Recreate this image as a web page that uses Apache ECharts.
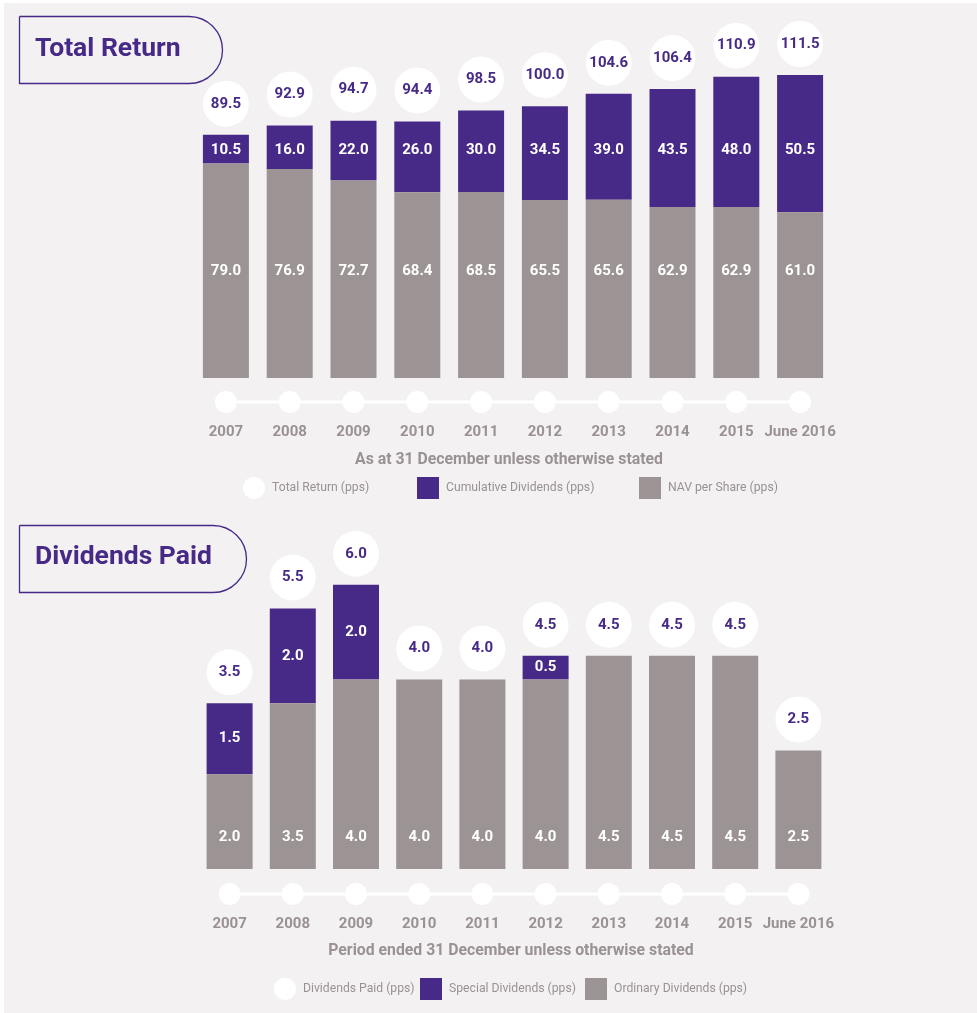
<!DOCTYPE html>
<html>
<head>
<meta charset="utf-8">
<script src="https://cdn.jsdelivr.net/npm/echarts@6/dist/echarts.min.js"></script>
<style>
html,body{margin:0;padding:0;background:#ffffff;}
#c{width:977px;height:1013px;}
</style>
</head>
<body>
<div id="c"></div>
<script>
// ---- data ----
const categories = ['2007','2008','2009','2010','2011','2012','2013','2014','2015','June 2016'];
// Chart 1: Total Return
const navPerShare = [79.0, 76.9, 72.7, 68.4, 68.5, 65.5, 65.6, 62.9, 62.9, 61.0];
const cumulativeDividends = [10.5, 16.0, 22.0, 26.0, 30.0, 34.5, 39.0, 43.5, 48.0, 50.5];
const totalReturn = [89.5, 92.9, 94.7, 94.4, 98.5, 100.0, 104.6, 106.4, 110.9, 111.5];
// Chart 2: Dividends Paid
const ordinaryDividends = [2.0, 3.5, 4.0, 4.0, 4.0, 4.0, 4.5, 4.5, 4.5, 2.5];
const specialDividends = [1.5, 2.0, 2.0, null, null, 0.5, null, null, null, null];
const dividendsPaid = [3.5, 5.5, 6.0, 4.0, 4.0, 4.5, 4.5, 4.5, 4.5, 2.5];

const PURPLE = '#472a87';
const GREY = '#9c9394';
const TEXTGREY = '#9a9193';
const BG = '#f3f1f2';
const FONT = 'Roboto, "Noto Sans", sans-serif';

const chart = echarts.init(document.getElementById('c'), null, {renderer: 'canvas'});

const fmt1 = v => Number(v).toFixed(1);

function hiddenY(idx, max, min) {
  return {gridIndex: idx, type: 'value', min: min, max: max, show: false};
}
function barX(idx) {
  return {gridIndex: idx, type: 'category', data: categories, show: false};
}
function timelineX(idx) {
  return {
    gridIndex: idx, type: 'category', data: categories, boundaryGap: true,
    axisLine: {show: false}, axisTick: {show: false}, splitLine: {show: false},
    axisLabel: {interval: 0, margin: 13, color: TEXTGREY, fontFamily: FONT, fontWeight: 'bold', fontSize: 15}
  };
}
const timelineZero = categories.map(() => 0);

function legendItem(name, left, top, icon) {
  return {
    data: [{name: name, icon: icon}], left: left, top: top,
    itemWidth: 22, itemHeight: 22, itemGap: 0, selectedMode: false, padding: 0,
    textStyle: {color: TEXTGREY, fontFamily: FONT, fontSize: 12.2, padding: [0, 0, 0, 2]}
  };
}

const option = {
  backgroundColor: '#ffffff',
  animation: false,
  grid: [
    {left: 194, width: 638, top: 52, height: 326},
    {left: 198, width: 632, top: 490, height: 379},
    {left: 194, width: 638, top: 392, height: 20},
    {left: 198, width: 632, top: 884, height: 20}
  ],
  xAxis: [barX(0), barX(1), timelineX(2), timelineX(3)],
  yAxis: [hiddenY(0, 120, 0), hiddenY(1, 8, 0), hiddenY(2, 1, -1), hiddenY(3, 1, -1)],
  legend: [
    legendItem('Total Return (pps)', 243, 477, 'circle'),
    legendItem('Cumulative Dividends (pps)', 417, 477, 'rect'),
    legendItem('NAV per Share (pps)', 639, 477, 'rect'),
    legendItem('Dividends Paid (pps)', 274, 978, 'circle'),
    legendItem('Special Dividends (pps)', 420, 978, 'rect'),
    legendItem('Ordinary Dividends (pps)', 585, 978, 'rect')
  ],
  graphic: [
    {type: 'rect', z: -10, silent: true, shape: {x: 4, y: 3, width: 973, height: 1010}, style: {fill: BG}},
    {type: 'rect', silent: true, shape: {x: 19.5, y: 16.5, width: 203, height: 67, r: [0, 33.5, 33.5, 0]},
      style: {fill: 'none', stroke: PURPLE, lineWidth: 1.3}},
    {type: 'text', silent: true, x: 35, y: 49,
      style: {text: 'Total Return', fill: PURPLE, font: 'bold 26.5px ' + FONT, textVerticalAlign: 'middle'}},
    {type: 'rect', silent: true, shape: {x: 19.5, y: 525.5, width: 227, height: 67, r: [0, 33.5, 33.5, 0]},
      style: {fill: 'none', stroke: PURPLE, lineWidth: 1.3}},
    {type: 'text', silent: true, x: 35, y: 557,
      style: {text: 'Dividends Paid', fill: PURPLE, font: 'bold 26.5px ' + FONT, textVerticalAlign: 'middle'}},
    {type: 'text', silent: true, x: 509, y: 460,
      style: {text: 'As at 31 December unless otherwise stated', fill: TEXTGREY, font: 'bold 15.8px ' + FONT,
        textAlign: 'center', textVerticalAlign: 'middle'}},
    {type: 'text', silent: true, x: 511, y: 951,
      style: {text: 'Period ended 31 December unless otherwise stated', fill: TEXTGREY, font: 'bold 15.8px ' + FONT,
        textAlign: 'center', textVerticalAlign: 'middle'}}
  ],
  series: [
    // ---- Chart 1 ----
    {
      name: 'NAV per Share (pps)', type: 'bar', xAxisIndex: 0, yAxisIndex: 0, stack: 'tr',
      barWidth: 46, z: 3, data: navPerShare,
      itemStyle: {color: GREY},
      label: {
        show: true, position: 'insideBottom', distance: 92,
        formatter: p => '{p|' + fmt1(cumulativeDividends[p.dataIndex]) + '}\n{g|' + fmt1(p.value) + '}',
        rich: {
          p: {color: '#ffffff', fontFamily: FONT, fontWeight: 'bold', fontSize: 15, lineHeight: 212},
          g: {color: '#ffffff', fontFamily: FONT, fontWeight: 'bold', fontSize: 15, lineHeight: 30}
        }
      }
    },
    {
      name: 'Cumulative Dividends (pps)', type: 'bar', xAxisIndex: 0, yAxisIndex: 0, stack: 'tr',
      barWidth: 46, z: 2, data: cumulativeDividends,
      itemStyle: {color: PURPLE}
    },
    {
      name: 'Total Return (pps)', type: 'scatter', xAxisIndex: 0, yAxisIndex: 0, z: 4,
      data: totalReturn, symbol: 'circle', symbolSize: 46, symbolOffset: [0, -31],
      itemStyle: {color: '#ffffff', opacity: 1},
      label: {show: true, position: 'inside', formatter: p => fmt1(p.value),
        color: PURPLE, fontFamily: FONT, fontWeight: 'bold', fontSize: 15}
    },
    {
      name: 'timeline1', type: 'line', xAxisIndex: 2, yAxisIndex: 2, data: timelineZero,
      symbol: 'circle', symbolSize: 22, silent: true,
      lineStyle: {color: '#ffffff', width: 3}, itemStyle: {color: '#ffffff', opacity: 1}
    },
    // ---- Chart 2 ----
    {
      name: 'Ordinary Dividends (pps)', type: 'bar', xAxisIndex: 1, yAxisIndex: 1, stack: 'dp',
      barWidth: 46, z: 3, data: ordinaryDividends,
      itemStyle: {color: GREY},
      label: {show: true, position: 'insideBottom', distance: 24, formatter: p => fmt1(p.value),
        color: '#ffffff', fontFamily: FONT, fontWeight: 'bold', fontSize: 15}
    },
    {
      name: 'Special Dividends (pps)', type: 'bar', xAxisIndex: 1, yAxisIndex: 1, stack: 'dp',
      barWidth: 46, z: 2, data: specialDividends,
      itemStyle: {color: PURPLE},
      label: {show: true, position: 'inside', formatter: p => (p.value == null ? '' : fmt1(p.value)),
        color: '#ffffff', fontFamily: FONT, fontWeight: 'bold', fontSize: 15}
    },
    {
      name: 'Dividends Paid (pps)', type: 'scatter', xAxisIndex: 1, yAxisIndex: 1, z: 4,
      data: dividendsPaid, symbol: 'circle', symbolSize: 46, symbolOffset: [0, -31],
      itemStyle: {color: '#ffffff', opacity: 1},
      label: {show: true, position: 'inside', formatter: p => fmt1(p.value),
        color: PURPLE, fontFamily: FONT, fontWeight: 'bold', fontSize: 15}
    },
    {
      name: 'timeline2', type: 'line', xAxisIndex: 3, yAxisIndex: 3, data: timelineZero,
      symbol: 'circle', symbolSize: 22, silent: true,
      lineStyle: {color: '#ffffff', width: 3}, itemStyle: {color: '#ffffff', opacity: 1}
    }
  ]
};
chart.setOption(option);
</script>
</body>
</html>
